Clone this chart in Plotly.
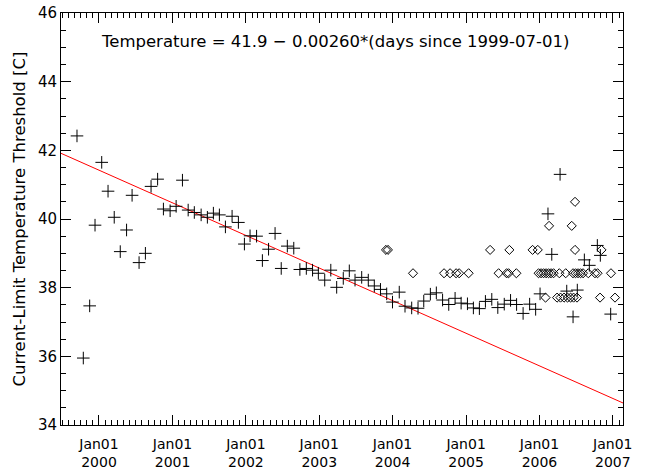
import numpy as np
import plotly.graph_objects as go
from datetime import datetime, timedelta

# ---- data (time in decimal years) ----
plus_t = [1999.700, 1999.786, 1999.873, 1999.946, 2000.037, 2000.123, 2000.207, 2000.289,
          2000.375, 2000.450, 2000.545, 2000.631, 2000.708, 2000.797, 2000.876, 2000.967,
          2001.049, 2001.135, 2001.213, 2001.297, 2001.390, 2001.475, 2001.557, 2001.639,
          2001.721, 2001.812, 2001.898, 2001.980, 2002.057, 2002.146, 2002.225, 2002.309,
          2002.398, 2002.482, 2002.565, 2002.653, 2002.736, 2002.824, 2002.909, 2002.988,
          2003.075, 2003.158, 2003.238, 2003.328, 2003.410, 2003.488, 2003.579, 2003.669,
          2003.751, 2003.835, 2003.920, 2003.999, 2004.091, 2004.169, 2004.260, 2004.346,
          2004.424, 2004.514, 2004.595, 2004.680, 2004.764, 2004.850, 2004.932, 2005.018,
          2005.099, 2005.181, 2005.263, 2005.350, 2005.432, 2005.520, 2005.606, 2005.688,
          2005.777, 2005.866, 2005.948, 2006.008, 2006.116, 2006.168, 2006.281, 2006.372,
          2006.458, 2006.516, 2006.612, 2006.680, 2006.789, 2006.830, 2006.971]
plus_v = [42.42, 35.95, 37.47, 39.82, 41.65, 40.81, 40.05, 39.05,
          39.68, 40.69, 38.73, 39.00, 40.95, 41.16, 40.29, 40.24,
          40.37, 41.13, 40.26, 40.19, 40.12, 40.05, 40.17, 40.12,
          39.77, 40.08, 39.90, 39.27, 39.51, 39.50, 38.79, 39.12,
          39.58, 38.56, 39.21, 39.15, 38.53, 38.56, 38.51, 38.42,
          38.22, 38.51, 38.01, 38.27, 38.49, 38.22, 38.30, 38.22,
          38.05, 37.95, 37.82, 37.58, 37.87, 37.46, 37.41, 37.40,
          37.61, 37.81, 37.85, 37.64, 37.51, 37.69, 37.55, 37.53,
          37.41, 37.39, 37.60, 37.66, 37.42, 37.52, 37.63, 37.51,
          37.25, 37.52, 37.37, 37.82, 40.15, 38.97, 41.30, 37.90,
          37.15, 37.93, 38.81, 38.65, 39.23, 38.94, 37.23]

diam_t = [2003.910, 2003.937, 2005.327, 2005.590, 2005.906, 2005.977, 2006.485, 2006.846,
          2004.278, 2004.700, 2004.782, 2004.864, 2004.905, 2005.034, 2005.443, 2005.552,
          2005.579, 2005.685, 2005.988, 2006.022, 2006.056, 2006.090, 2006.124, 2006.158,
          2006.192, 2006.271, 2006.358, 2006.458, 2006.492, 2006.526, 2006.560, 2006.594,
          2006.666, 2006.757, 2006.792, 2006.975,
          2006.083, 2006.240, 2006.287, 2006.335, 2006.383, 2006.424, 2006.465, 2006.512,
          2006.826, 2007.030,
          2006.131, 2006.440,
          2006.485]
diam_v = [39.10] * 8 + [38.42] * 28 + [37.71] * 10 + [39.80] * 2 + [40.50]

fit_intercept = 41.9
fit_slope = -0.00260
fit_epoch = "1999-07-01"

x_range_dec = [1999.482, 2007.139]
year_ticks = [2000, 2001, 2002, 2003, 2004, 2005, 2006, 2007]
y_range = [34, 46]


def dec_to_date(t):
    y = int(np.floor(t))
    start = datetime(y, 1, 1)
    end = datetime(y + 1, 1, 1)
    return start + (end - start) * (t - y)


px = [dec_to_date(t) for t in plus_t]
dx = [dec_to_date(t) for t in diam_t]
xr = [dec_to_date(t) for t in x_range_dec]
epoch = datetime.fromisoformat(fit_epoch)
fit_v = [fit_intercept + fit_slope * (d - epoch).total_seconds() / 86400.0 for d in xr]

fig = go.Figure()
fig.add_trace(go.Scatter(x=xr, y=fit_v, mode="lines",
                         line=dict(color="red", width=1), showlegend=False))
fig.add_trace(go.Scatter(x=dx, y=diam_v, mode="markers",
                         marker=dict(symbol="diamond-open", size=7, color="black",
                                     line=dict(width=1, color="black")),
                         showlegend=False))
fig.add_trace(go.Scatter(x=px, y=plus_v, mode="markers",
                         marker=dict(symbol="cross-thin", size=9, color="black",
                                     line=dict(width=1, color="black")),
                         showlegend=False))

xtick_font = dict(family="DejaVu Sans", size=14, color="black")
ytick_font = dict(family="DejaVu Sans", size=15, color="black")
text_font = dict(family="DejaVu Sans", size=16.5, color="black")

fig.update_layout(
    width=648, height=473, autosize=False,
    margin=dict(l=61, r=25, t=13, b=48),
    paper_bgcolor="white", plot_bgcolor="white",
    font=ytick_font,
    xaxis=dict(
        type="date", range=xr, automargin=False,
        tickmode="array",
        tickvals=[datetime(y, 1, 1) for y in year_ticks],
        ticktext=["Jan01<br>%d" % y for y in year_ticks],
        ticks="inside", ticklen=10, tickcolor="black", tickwidth=1,
        ticklabelstandoff=6,
        showline=True, linecolor="black", linewidth=1, mirror="allticks",
        showgrid=False, zeroline=False,
        minor=dict(dtick="M1", tick0="2000-01-01", ticks="inside", ticklen=5,
                   tickcolor="black", showgrid=False),
        tickfont=xtick_font,
    ),
    yaxis=dict(
        range=y_range, dtick=2, tick0=34, automargin=False,
        ticks="inside", ticklen=10, tickcolor="black", tickwidth=1,
        showline=True, linecolor="black", linewidth=1, mirror="allticks",
        showgrid=False, zeroline=False,
        minor=dict(dtick=0.5, ticks="inside", ticklen=5, tickcolor="black", showgrid=False),
        title=dict(text="Current-Limit Temperature Threshold [C]", font=text_font, standoff=8),
        tickfont=ytick_font,
    ),
    annotations=[dict(
        text="Temperature = 41.9 \u2212 0.00260*(days since 1999-07-01)",
        xref="paper", yref="paper", x=0.4875, y=0.93,
        xanchor="center", yanchor="middle", showarrow=False, font=text_font,
    )],
)

fig.write_html("out.html", config={"displayModeBar": False},
               post_script="document.body.style.margin='0';")
